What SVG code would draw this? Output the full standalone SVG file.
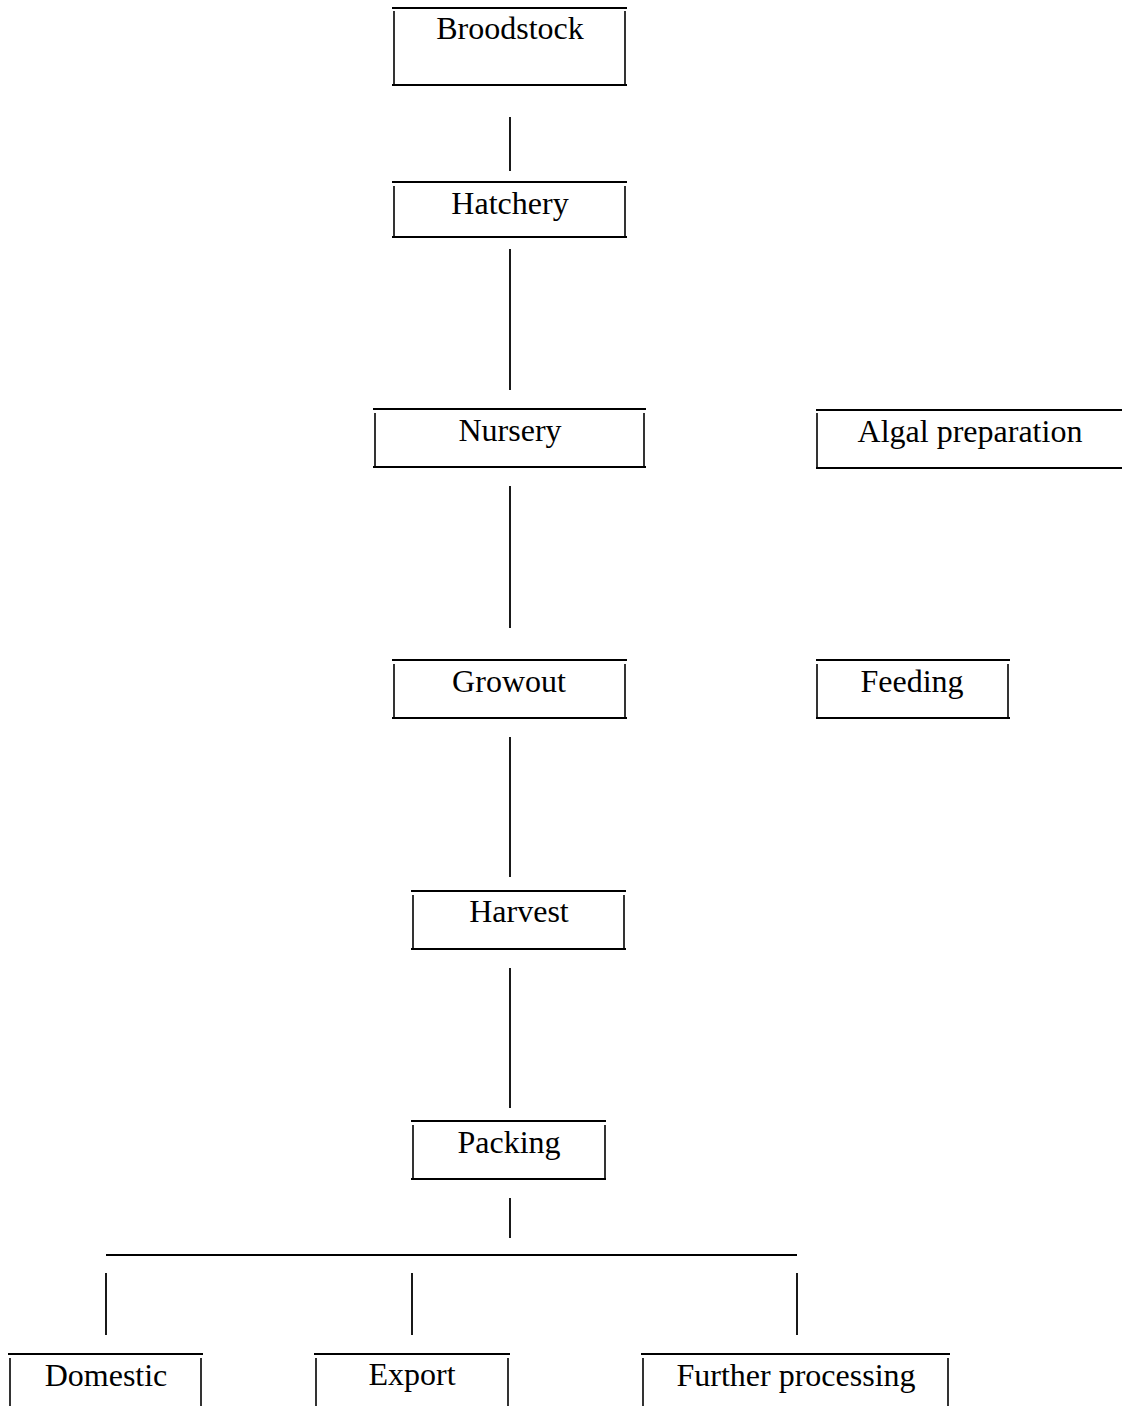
<svg xmlns="http://www.w3.org/2000/svg" width="1122" height="1406" viewBox="0 0 1122 1406">
<style>
.h{stroke:#000;stroke-width:2.2;fill:none}
.v{stroke:#000;stroke-width:1.6;fill:none}
.c{stroke:#000;stroke-width:1.8;fill:none}
text{font-family:"Liberation Serif","Times New Roman",serif;font-size:32px;fill:#000;text-anchor:middle}
</style>
<rect width="1122" height="1406" fill="#fff"/>
<g id="connectors">
<line class="c" x1="510" y1="117" x2="510" y2="171"/>
<line class="c" x1="510" y1="249" x2="510" y2="390"/>
<line class="c" x1="510" y1="486" x2="510" y2="628"/>
<line class="c" x1="510" y1="737" x2="510" y2="877"/>
<line class="c" x1="510" y1="968" x2="510" y2="1108"/>
<line class="c" x1="510" y1="1198" x2="510" y2="1238"/>
<line class="c" x1="106" y1="1255" x2="797" y2="1255"/>
<line class="c" x1="106" y1="1273" x2="106" y2="1335"/>
<line class="c" x1="412" y1="1273" x2="412" y2="1335"/>
<line class="c" x1="797" y1="1273" x2="797" y2="1335"/>
</g>
<g id="broodstock">
<line class="h" x1="392" y1="8" x2="627" y2="8"/>
<line class="h" x1="392" y1="85" x2="627" y2="85"/>
<line class="v" x1="394" y1="11" x2="394" y2="84"/>
<line class="v" x1="625" y1="11" x2="625" y2="84"/>
<text x="510" y="39">Broodstock</text>
</g>
<g id="hatchery">
<line class="h" x1="392" y1="182" x2="627" y2="182"/>
<line class="h" x1="392" y1="237" x2="627" y2="237"/>
<line class="v" x1="394" y1="186" x2="394" y2="236"/>
<line class="v" x1="625" y1="186" x2="625" y2="236"/>
<text x="510" y="214">Hatchery</text>
</g>
<g id="nursery">
<line class="h" x1="373" y1="409" x2="646" y2="409"/>
<line class="h" x1="373" y1="467" x2="646" y2="467"/>
<line class="v" x1="375" y1="413" x2="375" y2="466"/>
<line class="v" x1="644" y1="413" x2="644" y2="466"/>
<text x="510" y="441">Nursery</text>
</g>
<g id="algal">
<line class="h" x1="816" y1="410" x2="1122" y2="410"/>
<line class="h" x1="816" y1="468" x2="1122" y2="468"/>
<line class="v" x1="817" y1="413" x2="817" y2="467"/>
<text x="970" y="442">Algal preparation</text>
</g>
<g id="growout">
<line class="h" x1="392" y1="660" x2="627" y2="660"/>
<line class="h" x1="392" y1="718" x2="627" y2="718"/>
<line class="v" x1="394" y1="664" x2="394" y2="717"/>
<line class="v" x1="625" y1="664" x2="625" y2="717"/>
<text x="509" y="692">Growout</text>
</g>
<g id="feeding">
<line class="h" x1="816" y1="660" x2="1010" y2="660"/>
<line class="h" x1="816" y1="718" x2="1010" y2="718"/>
<line class="v" x1="817" y1="664" x2="817" y2="717"/>
<line class="v" x1="1008" y1="664" x2="1008" y2="717"/>
<text x="912" y="692">Feeding</text>
</g>
<g id="harvest">
<line class="h" x1="411" y1="891" x2="626" y2="891"/>
<line class="h" x1="411" y1="949" x2="626" y2="949"/>
<line class="v" x1="413" y1="895" x2="413" y2="948"/>
<line class="v" x1="624" y1="895" x2="624" y2="948"/>
<text x="519" y="922">Harvest</text>
</g>
<g id="packing">
<line class="h" x1="411" y1="1121" x2="606" y2="1121"/>
<line class="h" x1="411" y1="1179" x2="606" y2="1179"/>
<line class="v" x1="413" y1="1125" x2="413" y2="1178"/>
<line class="v" x1="605" y1="1125" x2="605" y2="1178"/>
<text x="509" y="1153">Packing</text>
</g>
<g id="domestic">
<line class="h" x1="8" y1="1354" x2="203" y2="1354"/>
<line class="v" x1="10" y1="1358" x2="10" y2="1406"/>
<line class="v" x1="201" y1="1358" x2="201" y2="1406"/>
<text x="106" y="1386">Domestic</text>
</g>
<g id="export">
<line class="h" x1="314" y1="1354" x2="510" y2="1354"/>
<line class="v" x1="316" y1="1358" x2="316" y2="1406"/>
<line class="v" x1="508" y1="1358" x2="508" y2="1406"/>
<text x="412" y="1385">Export</text>
</g>
<g id="further">
<line class="h" x1="641" y1="1354" x2="950" y2="1354"/>
<line class="v" x1="643" y1="1358" x2="643" y2="1406"/>
<line class="v" x1="948" y1="1358" x2="948" y2="1406"/>
<text x="796" y="1386">Further processing</text>
</g>
</svg>
